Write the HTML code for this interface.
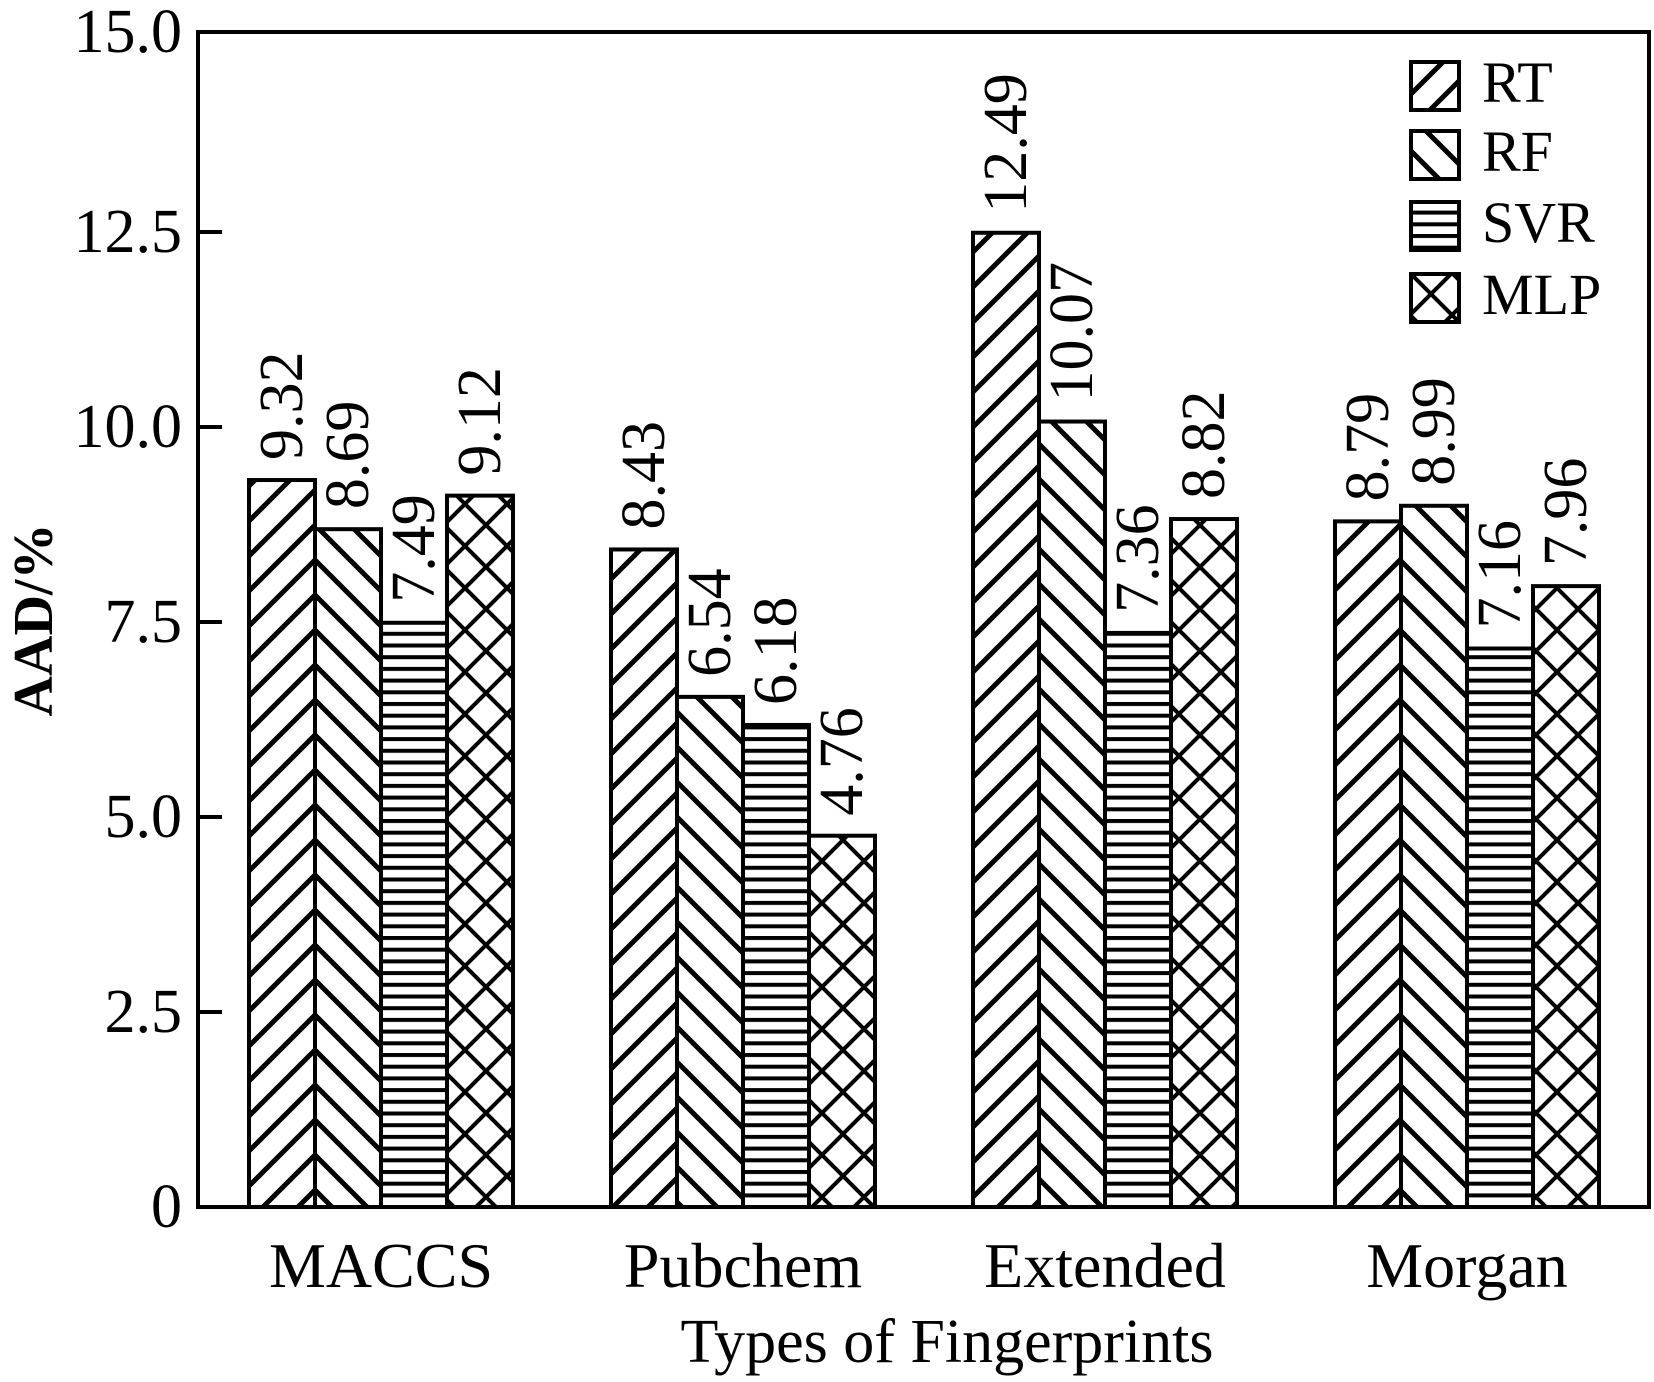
<!DOCTYPE html>
<html><head><meta charset="utf-8"><style>
html,body{margin:0;padding:0;background:#fff;}
svg{display:block;}
text{font-family:"Liberation Serif",serif;fill:#000;}
</style></head><body>
<svg id="chart" width="1654" height="1382" viewBox="0 0 1654 1382" xmlns="http://www.w3.org/2000/svg">
<defs>
<pattern id="p-rt" patternUnits="userSpaceOnUse" width="35" height="35">
<path d="M-5,40 L40,-5 M-40,40 L40,-40 M-5,75 L75,-5" stroke="#000" stroke-width="5"/>
</pattern>
<pattern id="p-rf" patternUnits="userSpaceOnUse" width="35" height="35">
<path d="M-5,-5 L40,40 M-40,-5 L5,40 M30,-5 L75,40" stroke="#000" stroke-width="5"/>
</pattern>
<pattern id="p-svr" patternUnits="userSpaceOnUse" width="20" height="11.7">
<rect x="0" y="0" width="20" height="4" fill="#000"/>
</pattern>
<pattern id="p-mlp" patternUnits="userSpaceOnUse" width="42" height="42" x="3" y="0">
<path d="M-5,47 L47,-5 M-5,-5 L47,47 M-5,5 L5,-5 M37,47 L47,37 M-5,37 L5,47 M37,-5 L47,5" stroke="#000" stroke-width="4"/>
</pattern>
</defs>
<g id="plot"></g>
</svg>
<script>
const categories = ["MACCS","Pubchem","Extended","Morgan"];
const seriesNames = ["RT","RF","SVR","MLP"];
const rtValues = [9.32, 8.43, 12.49, 8.79];
const rfValues = [8.69, 6.54, 10.07, 8.99];
const svrValues = [7.49, 6.18, 7.36, 7.16];
const mlpValues = [9.12, 4.76, 8.82, 7.96];
const yTicks = [0, 2.5, 5, 7.5, 10, 12.5, 15];
const yTickLabels = ["0","2.5","5.0","7.5","10.0","12.5","15.0"];

const NS = "http://www.w3.org/2000/svg";
const g = document.getElementById("plot");
const L = 198, R = 1649, T = 32, B = 1207;
const yScale = v => B - v * 78;
const tickY = v => v === 15 ? T : yScale(v);
const groupX = i => 249 + i * 362;
const barW = 66;
const series = [rtValues, rfValues, svrValues, mlpValues];
const pats = ["p-rt","p-rf","p-svr","p-mlp"];

function mk(tag, attrs, parent) {
  const e = document.createElementNS(NS, tag);
  for (const k in attrs) e.setAttribute(k, attrs[k]);
  (parent || g).appendChild(e);
  return e;
}

series.forEach((vals, s) => {
  vals.forEach((v, i) => {
    const x = groupX(i) + s * barW;
    const y = yScale(v);
    const r = mk("rect", {x: x, y: y, width: barW, height: B - y, fill: "url(#" + pats[s] + ")", stroke: "#000", "stroke-width": 4});
    
    
    const cx = x + barW / 2 + 20;
    const ty = y - 20;
    const t = mk("text", {x: cx, y: ty, transform: "rotate(-90 " + cx + " " + ty + ")", "font-size": 62});
    t.textContent = v.toFixed(2);
    
    
  });
});

const fr = mk("rect", {x: L, y: T, width: R - L, height: B - T, fill: "none", stroke: "#000", "stroke-width": 4});



yTicks.forEach((v, i) => {
  const y = tickY(v);
  if (v > 0 && v < 15) {
    const ln = mk("line", {x1: L, x2: L + 24, y1: y, y2: y, stroke: "#000", "stroke-width": 4});
    
    
  }
  const t = mk("text", {x: 182, y: y + 20, "text-anchor": "end", "font-size": 62});
  t.textContent = yTickLabels[i];
  
  
});

categories.forEach((c, i) => {
  const t = mk("text", {x: groupX(i) + barW * 2, y: 1287, "text-anchor": "middle", "font-size": 64});
  t.textContent = c;
  
  
});

const xt = mk("text", {x: 947, y: 1362, "text-anchor": "middle", "font-size": 62});
xt.textContent = "Types of Fingerprints";


const yt = mk("text", {x: 52, y: 620, "text-anchor": "middle", "font-size": 56, "font-weight": "bold", transform: "rotate(-90 52 620)", "font-family": "Liberation Sans, sans-serif"});
yt.textContent = "AAD/%";



const legY = [62, 131, 202, 274];
seriesNames.forEach((n, s) => {
  const r = mk("rect", {x: 1411, y: legY[s], width: 48, height: 48, fill: "url(#" + pats[s] + ")", stroke: "#000", "stroke-width": 4});
  
  
  const t = mk("text", {x: 1482, y: legY[s] + 40, "font-size": 58});
  t.textContent = n;
  
  
});
</script>
</body></html>
